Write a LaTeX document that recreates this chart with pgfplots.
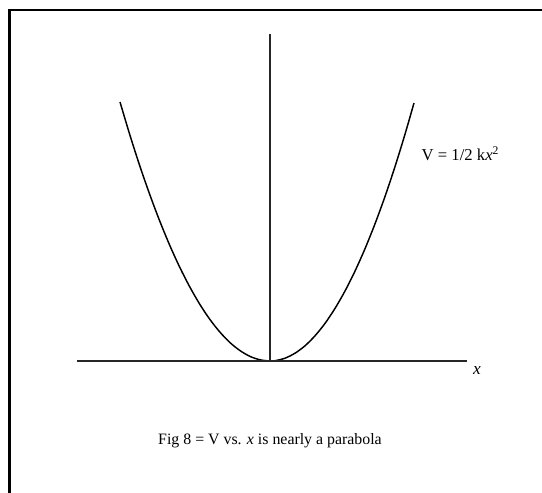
\documentclass[border=0pt]{standalone}
\usepackage{fontspec}
\setmainfont{Liberation Serif}
\usepackage{pgfplots}
\pgfplotsset{compat=1.18}
\begin{document}
\begin{tikzpicture}
\begin{axis}[
  width=406.5pt, height=369pt, scale only axis,
  xmin=0, xmax=542, ymin=0, ymax=492,
  hide axis, clip=false,
]
% parabola V = 1/2 k x^2 (pixel-space coordinates)
\addplot[black, line width=1.1pt, smooth] coordinates {
 (120,390) (130,356.6) (140,325.5) (150,296.8) (160,270.3) (170,246.1)
 (180,224.2) (190,204.7) (200,187.4) (210,172.4) (220,159.8) (230,149.4)
 (240,141.4) (250,135.6) (260,132.2) (270,131)
 (275,131.3) (285,133.8) (295,138.8) (305,146.2) (315,156.2) (325,168.6)
 (335,183.6) (345,201.0) (355,220.9) (365,243.3) (375,268.2) (385,295.5)
 (395,325.4) (405,357.8) (414,389)
};
% x axis
\addplot[black!85, line width=0.8pt] coordinates {(77,131) (467,131)};
% vertical axis
\addplot[black!85, line width=0.8pt] coordinates {(270,131) (270,458)};
% frame
\draw[black, line width=1.6pt] (axis cs:9.5,-20) -- (axis cs:9.5,482) -- (axis cs:560,482);
\node[anchor=west, font=\fontsize{12.5}{14}\selectfont] at (axis cs:417,338) {V = 1/2 k\textit{x}\textsuperscript{2}};
\node[font=\fontsize{13}{14}\selectfont\itshape] at (axis cs:477,121) {x};
\node[font=\fontsize{11.9}{14}\selectfont] at (axis cs:270,51) {Fig 8 = V vs. \textit{x} is nearly a parabola};
\coordinate (bl) at (axis cs:0,0);
\coordinate (tr) at (axis cs:542,492);
\end{axis}
\pgfresetboundingbox
\path[use as bounding box] (bl) rectangle (tr);
\end{tikzpicture}
\end{document}
